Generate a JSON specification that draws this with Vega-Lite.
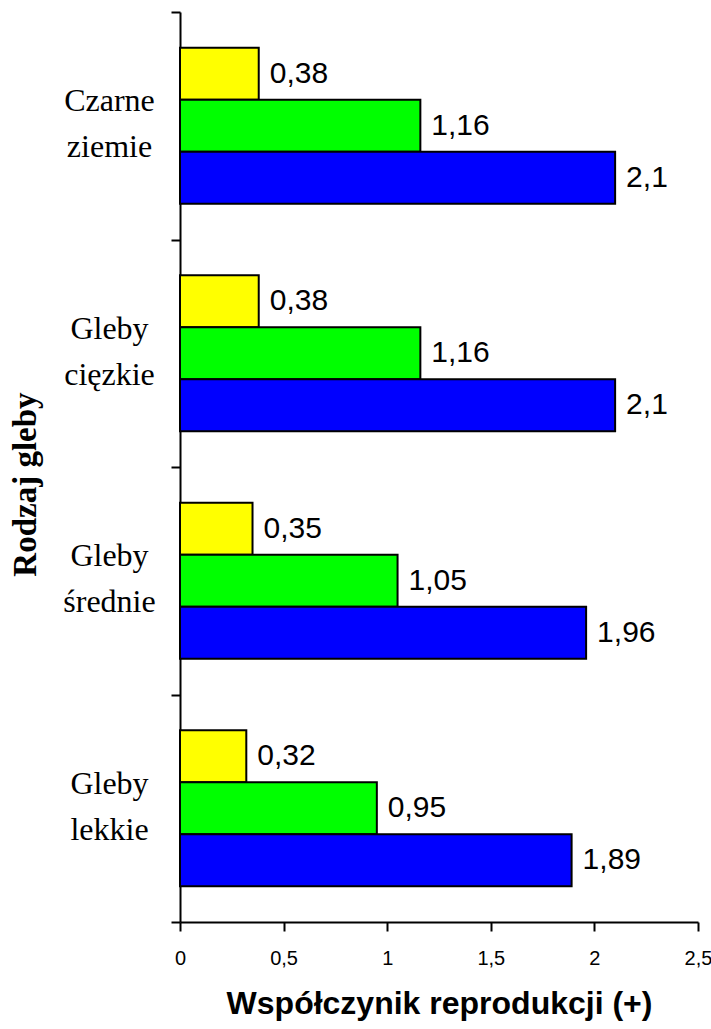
{
  "$schema": "https://vega.github.io/schema/vega-lite/v6.json",
  "width": 518,
  "height": 910,
  "autosize": {"type": "none"},
  "padding": {"left": 180, "top": 12, "right": 13, "bottom": 107},
  "background": "white",
  "config": {
    "locale": {
      "number": {"decimal": ",", "thousands": " ", "grouping": [3], "currency": ["", " zł"]}
    },
    "view": {"stroke": null}
  },
  "data": {
    "values": [
      {"gleba": "Czarne ziemie", "wariant": "A", "wartosc": 0.38},
      {"gleba": "Czarne ziemie", "wariant": "B", "wartosc": 1.16},
      {"gleba": "Czarne ziemie", "wariant": "C", "wartosc": 2.1},
      {"gleba": "Gleby cięzkie", "wariant": "A", "wartosc": 0.38},
      {"gleba": "Gleby cięzkie", "wariant": "B", "wartosc": 1.16},
      {"gleba": "Gleby cięzkie", "wariant": "C", "wartosc": 2.1},
      {"gleba": "Gleby średnie", "wariant": "A", "wartosc": 0.35},
      {"gleba": "Gleby średnie", "wariant": "B", "wartosc": 1.05},
      {"gleba": "Gleby średnie", "wariant": "C", "wartosc": 1.96},
      {"gleba": "Gleby lekkie", "wariant": "A", "wartosc": 0.32},
      {"gleba": "Gleby lekkie", "wariant": "B", "wartosc": 0.95},
      {"gleba": "Gleby lekkie", "wariant": "C", "wartosc": 1.89}
    ]
  },
  "encoding": {
    "y": {
      "field": "gleba",
      "type": "nominal",
      "sort": ["Czarne ziemie", "Gleby cięzkie", "Gleby średnie", "Gleby lekkie"],
      "scale": {"paddingInner": 0, "paddingOuter": 0},
      "axis": {
        "title": "Rodzaj gleby",
        "titleFont": "Liberation Serif",
        "titleFontSize": 33,
        "titleFontWeight": "bold",
        "titleColor": "black",
        "titleAngle": -90,
        "titleAlign": "center",
        "titleBaseline": "alphabetic",
        "titleX": -145,
        "titleY": 472,
        "labelExpr": "split(datum.label, ' ')",
        "labelFont": "Liberation Serif",
        "labelFontSize": 32,
        "labelLineHeight": 46,
        "labelOffset": -25,
        "labelColor": "black",
        "labelAlign": "center",
        "labelBaseline": "middle",
        "labelPadding": 62,
        "labelLimit": 300,
        "tickBand": "extent",
        "tickSize": 9,
        "tickWidth": 2,
        "tickColor": "black",
        "domainColor": "black",
        "domainWidth": 2,
        "grid": false
      }
    },
    "yOffset": {
      "field": "wariant",
      "type": "nominal",
      "scale": {"paddingInner": 0, "paddingOuter": 0.69}
    },
    "x": {
      "field": "wartosc",
      "type": "quantitative",
      "scale": {"domain": [0, 2.5], "nice": false, "zero": true},
      "axis": {
        "title": "Współczynik reprodukcji (+)",
        "titleFont": "Liberation Sans",
        "titleFontSize": 32,
        "titleFontWeight": "bold",
        "titleColor": "black",
        "titlePadding": 20,
        "values": [0, 0.5, 1, 1.5, 2, 2.5],
        "format": "~g",
        "labelFont": "Liberation Sans",
        "labelFontSize": 20,
        "labelColor": "black",
        "labelPadding": 17,
        "labelFlush": false,
        "tickSize": 9,
        "tickWidth": 2,
        "tickColor": "black",
        "domainColor": "black",
        "domainWidth": 2,
        "grid": false
      }
    }
  },
  "layer": [
    {
      "mark": {"type": "bar", "stroke": "black", "strokeWidth": 2},
      "encoding": {
        "color": {
          "field": "wariant",
          "type": "nominal",
          "scale": {"domain": ["A", "B", "C"], "range": ["#FFFF00", "#00FF00", "#0000FF"]},
          "legend": null
        }
      }
    },
    {
      "mark": {
        "type": "text",
        "align": "left",
        "baseline": "middle",
        "dx": 11,
        "font": "Liberation Sans",
        "fontSize": 30,
        "color": "black"
      },
      "encoding": {
        "text": {"field": "wartosc", "type": "quantitative", "format": ".3~g"}
      }
    }
  ]
}
